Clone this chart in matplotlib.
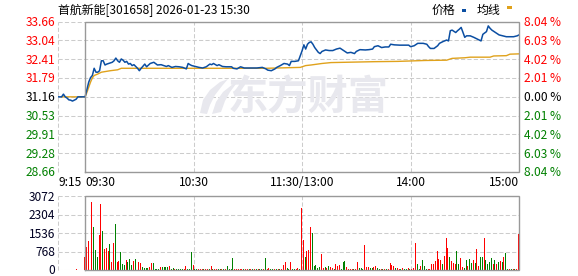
import matplotlib
matplotlib.use('Agg')
import matplotlib.pyplot as plt
from matplotlib.patches import Rectangle, Polygon

plt.rcParams['font.family'] = ['Noto Sans CJK SC', 'DejaVu Sans']
plt.rcParams['lines.scale_dashes'] = False

# ---------------- data ----------------
title = '首航新能[301658] 2026-01-23 15:30'
legend_labels = ['价格', '均线']
watermark = '东方财富'
prev_close = 31.16

price_ticks = [28.66, 29.28, 29.91, 30.53, 31.16, 31.79, 32.41, 33.04, 33.66]
price_tick_labels = ['28.66', '29.28', '29.91', '30.53', '31.16', '31.79', '32.41', '33.04', '33.66']
pct_tick_labels = ['8.04 %', '6.03 %', '4.02 %', '2.01 %', '0.00 %', '2.01 %', '4.02 %', '6.03 %', '8.04 %']
vol_ticks = [0, 768, 1536, 2304, 3072]
vol_tick_labels = ['0', '768', '1536', '2304', '3072']

# minutes relative to 09:30 (pre-market 9:15 = -15, 15:00 = 240)
time_tick_minutes = [-15, 0, 60, 120, 180, 240]
time_tick_labels = ['9:15', '09:30', '10:30', '11:30/13:00', '14:00', '15:00']

price_minutes = [-15, -13, -12, -11, -10, -9, -8, -7, -6, -5, -4, 0,
                 1, 2, 3, 4, 5, 6, 7, 8, 9, 10, 11, 12, 13, 15, 16, 17, 18, 19, 20,
                 21, 22, 23, 24, 25, 26, 27, 29, 30, 31, 33, 34, 36, 38, 40, 42, 45,
                 46, 48, 50, 52, 54, 56, 57, 58, 59, 61, 63, 65, 67, 69, 70, 71, 73,
                 74, 76, 78, 81, 82, 84, 86, 88, 90, 93, 95, 98, 100, 101, 103, 105,
                 106, 108, 110, 112, 113, 114, 116, 118, 119, 120, 121, 122, 123, 124,
                 125, 126, 127, 128, 129, 130, 131, 133, 135, 137, 139, 141, 143, 145,
                 147, 149, 150, 152, 155, 157, 159, 160, 162, 164, 166, 168, 169, 171,
                 174, 177, 179, 180, 182, 184, 187, 189, 190, 191, 193, 195, 196, 198,
                 200, 201, 202, 203, 205, 206, 207, 208, 209, 210, 211, 213, 215, 217,
                 218, 219, 220, 222, 223, 224, 225, 227, 229, 231, 233, 235, 237, 239, 240]
price_values = [31.16, 31.16, 31.25, 31.16, 31.12, 31.06, 31.05, 31.02, 31.05, 31.08, 31.16, 31.16,
                31.40, 31.65, 31.80, 31.87, 32.11, 31.98, 31.98, 32.03, 32.36, 32.36, 32.22, 32.25, 32.27, 32.31, 32.36, 32.45, 32.36, 32.31, 32.42,
                32.38, 32.31, 32.34, 32.25, 32.27, 32.20, 32.23, 32.11, 32.03, 32.11, 32.25, 32.16, 32.27, 32.31, 32.22, 32.23, 32.17,
                32.20, 32.14, 32.17, 32.16, 32.14, 32.09, 32.27, 32.23, 32.20, 32.17, 32.14, 32.12, 32.16, 32.25, 32.23, 32.27, 32.20,
                32.23, 32.17, 32.16, 32.16, 32.11, 32.09, 32.16, 32.12, 32.12, 32.12, 32.12, 32.14, 32.09, 32.05, 32.03, 32.09,
                32.14, 32.20, 32.27, 32.25, 32.20, 32.34, 32.34, 32.36, 32.53, 32.69, 32.89, 32.75, 32.91, 32.97,
                32.99, 32.91, 32.80, 32.72, 32.64, 32.60, 32.67, 32.72, 32.70, 32.70, 32.75, 32.78, 32.70, 32.62,
                32.64, 32.60, 32.67, 32.73, 32.72, 32.73, 32.75, 32.83, 32.86, 32.80, 32.82, 32.82, 32.91, 32.89,
                32.88, 32.88, 32.88, 32.83, 32.86, 32.94, 32.94, 32.91, 32.83, 32.77, 32.77, 32.86, 32.94, 33.00,
                33.05, 33.02, 33.36, 33.38, 33.30, 33.36, 33.41, 33.47, 33.30, 33.14, 33.19, 33.19, 33.14, 33.08,
                33.05, 33.02, 33.24, 33.33, 33.52, 33.44, 33.38, 33.30, 33.22, 33.19, 33.16, 33.16, 33.16, 33.19, 33.22]

avg_minutes = [-13, 0, 1, 2, 3, 4, 5, 7, 9, 11, 14, 18, 20, 60, 100, 119, 122, 125, 131,
               136, 152, 160, 173, 188, 200, 203, 210, 213, 224, 226, 233, 235, 240]
avg_values = [31.16, 31.16, 31.31, 31.48, 31.65, 31.79, 31.87, 31.92, 31.98, 32.00, 32.03, 32.06, 32.11, 32.11, 32.11, 32.14, 32.20, 32.22, 32.27,
              32.30, 32.32, 32.33, 32.34, 32.37, 32.38, 32.44, 32.46, 32.48, 32.48, 32.52, 32.53, 32.58, 32.59]

auction_minute = -5
auction_volume = 55

volumes = [556, 960, 1210, 1460, 2836, 1793, 834, 556, 1460, 2752,
           1626, 876, 931, 792, 1084, 334, 1140, 1918, 334, 375,
           737, 250, 208, 417, 347, 459, 208, 389, 459, 160,
           334, 306, 140, 85, 70, 85, 140, 278, 306, 42,
           30, 42, 140, 125, 125, 125, 125, 160, 55, 70,
           55, 40, 40, 40, 40, 40, 160, 40, 40, 750,
           200, 40, 30, 30, 40, 30, 30, 40, 30, 30,
           160, 30, 30, 30, 40, 30, 30, 30, 40, 160,
           30, 30, 500, 40, 30, 30, 40, 30, 30, 30,
           30, 40, 30, 30, 30, 30, 30, 40, 30, 30,
           500, 30, 70, 30, 40, 30, 30, 40, 30, 60,
           200, 333, 70, 40, 320, 40, 40, 60, 100, 60,
           2600, 1250, 556, 792, 834, 1807, 1557, 180, 210, 70,
           140, 667, 70, 140, 70, 180, 140, 100, 40, 264,
           180, 210, 40, 333, 375, 140, 40, 40, 40, 40,
           40, 333, 70, 70, 40, 1043, 110, 140, 70, 70,
           140, 180, 70, 40, 40, 40, 40, 40, 40, 292,
           210, 180, 70, 70, 40, 40, 70, 40, 40, 70,
           40, 40, 70, 1126, 236, 40, 160, 417, 160, 40,
           40, 40, 250, 250, 375, 792, 460, 417, 250, 584,
           1348, 931, 556, 375, 292, 250, 792, 250, 500, 120,
           80, 417, 160, 459, 292, 417, 292, 876, 160, 556,
           556, 1348, 417, 250, 333, 500, 250, 417, 250, 333,
           375, 333, 542, 709, 40, 40, 40, 40, 40, 40,
           1501]
vol_dirs = ('RRRRRGGGRR' 'GRRRGRRGRR' 'GGGRGGGRGG' 'RRGGGGRRGG' 'GGRGGGGRGG'
            'RGGGGRRGGG' 'RGGRRRGRRG' 'RGRRGGRGRG' 'GGGRRRRRGR' 'RGRGRGRGGR'
            'GRRGGRGRGR' 'RRGGRGGRRG' 'RRGRRRGGGG' 'GRRGRGRRGR' 'RRGGGRRRRG'
            'RRGGGRRRGG' 'RRGGRGRGRR' 'RRGRRGRGGR' 'GRRRGGRGGG' 'RRRRRRRRGR'
            'RRGRRRGGRR' 'GGRGGRGRRG' 'GRGGGGRGRG' 'RGRGGRGRGR' 'R')

# ---------------- styling ----------------
W, H = 578, 276
price_color = '#0b4ea2'
avg_color = '#e0a21c'
up_color = '#ff0000'
down_color = '#008000'
grid_color = '#cccccc'
frame_color = '#999999'
wm_color = '#e8e8ee'
fs = 8.6
PX = 0.72  # points per pixel

fig = plt.figure(figsize=(W / 100, H / 100), dpi=100)
fig.patch.set_facecolor('white')


def frac_rect(left, top, right, bottom):
    return [left / W, 1 - bottom / H, (right - left) / W, (bottom - top) / H]


def style_panel(ax, ymin, ymax, yticks):
    for s in ax.spines.values():
        s.set_visible(False)
    ax.set_xlim(-15, 240)
    ax.set_ylim(ymin, ymax)
    for y in yticks:
        ax.plot([-15, 240], [y, y], color=grid_color, lw=0.75, dashes=(3, 1.6), zorder=0)
    for xm in [-15, 60, 120, 180]:
        ax.plot([xm, xm], [ymin, ymax], color=grid_color, lw=0.75, dashes=(3, 1.6), zorder=0,
                clip_on=False)
    ax.plot([0, 240, 240, 0, 0], [ymin, ymin, ymax, ymax, ymin], color=frame_color, lw=1.0,
            zorder=5, clip_on=False, solid_joinstyle='miter')
    ax.set_xticks([])
    ax.set_yticks([])


def tick_color(v):
    if v > prev_close + 1e-6:
        return up_color
    if v < prev_close - 1e-6:
        return down_color
    return '#000000'


def y_label(ax, v, text, side, color):
    # baseline placed ~4.4 px below the tick value so digits look centred
    if side == 'left':
        ax.annotate(text, (0, v), xycoords=('axes fraction', 'data'),
                    xytext=(-3 * PX, -4.4 * PX), textcoords='offset points',
                    ha='right', va='baseline', fontsize=fs, color=color)
    else:
        ax.annotate(text, (1, v), xycoords=('axes fraction', 'data'),
                    xytext=(5 * PX, -4.4 * PX), textcoords='offset points',
                    ha='left', va='baseline', fontsize=fs, color=color)


# price panel
ax = fig.add_axes(frac_rect(58, 21.7, 519, 172))
style_panel(ax, price_ticks[0], price_ticks[-1], price_ticks)
for v, t in zip(price_ticks, price_tick_labels):
    y_label(ax, v, t, 'left', tick_color(v))
for v, t in zip(price_ticks[::-1], pct_tick_labels):
    y_label(ax, v, t, 'right', tick_color(v))

# watermark (logo + text)
logo1 = [(200, 113), (203, 100), (210, 90), (220, 82), (228, 79), (222, 86), (215, 95),
         (210, 105), (207, 114)]
logo2 = [(212, 114), (216, 102), (223, 92), (233, 84), (236, 84), (230, 92), (225, 101),
         (221, 112)]
for poly in (logo1, logo2):
    fig.add_artist(Polygon([(x / W, 1 - y / H) for x, y in poly], closed=True,
                           transform=fig.transFigure, facecolor=wm_color, edgecolor='none',
                           zorder=0.5))
fig.text(308 / W, 1 - 98 / H, watermark, fontsize=29, fontweight='bold', color=wm_color,
         ha='center', va='center', zorder=0.5)

ax.plot(avg_minutes, avg_values, color=avg_color, lw=1.0, zorder=3)
ax.plot(price_minutes, price_values, color=price_color, lw=1.1, zorder=4)

for m, lbl in zip(time_tick_minutes, time_tick_labels):
    ha = 'center'
    if m == -15 or m == 0:
        ha = 'left'
    elif m == 240:
        ha = 'right'
    ax.annotate(lbl, (m, 0), xycoords=('data', 'axes fraction'), xytext=(0, -14 * PX),
                textcoords='offset points', ha=ha, va='baseline', fontsize=fs, color='#000000')

# volume panel
axv = fig.add_axes(frac_rect(58, 196.3, 519, 270))
style_panel(axv, 0, vol_ticks[-1], vol_ticks)
for v, t in zip(vol_ticks, vol_tick_labels):
    y_label(axv, v, t, 'left', '#000022')
minutes = list(range(len(volumes)))
colors = [up_color if d == 'R' else down_color for d in vol_dirs]
axv.bar([m - 0.3 for m in minutes], volumes, width=0.55, color=colors, linewidth=0, zorder=2)
axv.bar([auction_minute], [auction_volume], width=0.55, color=up_color, linewidth=0, zorder=2)

# title & legend
fig.text(58 / W, 1 - 14 / H, title, fontsize=fs, ha='left', va='baseline', color='#000000')
fig.text(432 / W, 1 - 14 / H, legend_labels[0], fontsize=fs, ha='left', va='baseline')
fig.add_artist(Rectangle((462 / W, 1 - 12 / H), 4 / W, 3 / H, transform=fig.transFigure,
                         color=price_color, lw=0))
fig.text(477 / W, 1 - 14 / H, legend_labels[1], fontsize=fs, ha='left', va='baseline')
fig.add_artist(Rectangle((507 / W, 1 - 9 / H), 5 / W, 2.5 / H, transform=fig.transFigure,
                         color=avg_color, lw=0))

fig.savefig('out.png', dpi=100)
